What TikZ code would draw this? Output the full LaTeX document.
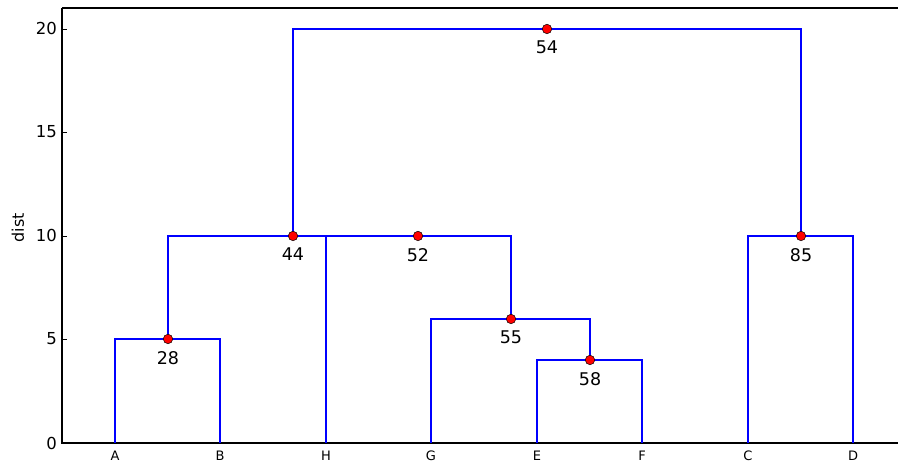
\documentclass[tikz,border=0pt]{standalone}
\usepackage{fontspec}
\setmainfont{DejaVu Sans}
\begin{document}
\begin{tikzpicture}[x=1pt,y=1pt,
  spine/.style={black,line width=1.3pt},
  branch/.style={blue,line width=1.2pt},
  joint/.style={circle,fill=red,draw=black,line width=0.5pt,inner sep=0pt,minimum size=9.5pt},
  ticklab/.style={font=\fontsize{16.5}{19}\selectfont,anchor=east,inner sep=0pt},
  leaflab/.style={font=\fontsize{13}{15}\selectfont,inner sep=0pt},
  numlab/.style={font=\fontsize{17.5}{20}\selectfont,inner sep=0pt}]
\useasboundingbox (0,0) rectangle (898,465);
% axes
\coordinate (o) at (62,22);
\coordinate (ytop) at (62,457);
\coordinate (xr) at (898,22);
\coordinate (tr) at (898,457);
\draw[spine] (ytop) -- (o) -- (xr);
\draw[spine] (ytop) -- (tr);
% y ticks
\foreach \v/\yy in {0/22,5/126,10/229,15/333,20/436}{
  \draw[black,line width=0.8pt] (62,\yy) -- (67,\yy);
  \node[ticklab] (t\v) at (57,\yy) {\v};
}
\node[font=\fontsize{16}{18}\selectfont,rotate=90] (ylab) at (18,237) {dist};
% leaves
\foreach \n/\xx in {A/115,B/220,H/326,G/431,E/537,F/642,C/748,D/853}{
  \coordinate (\n) at (\xx,22);
  \node[leaflab] (l\n) at (\xx,9) {\n};
}
% joints
\coordinate (j28) at (168,126);
\coordinate (j58) at (590,105);
\coordinate (j55) at (511,146);
\coordinate (j52) at (418,229);
\coordinate (j44) at (293,229);
\coordinate (j85) at (801,229);
\coordinate (j54) at (547,436);
% branches
\draw[branch] (A) |- (j28) -| (B);
\draw[branch] (E) |- (j58) -| (F);
\draw[branch] (G) |- (j55) -| (j58);
\draw[branch] (H) |- (j52) -| (j55);
\draw[branch] (j28) |- (j44) -| (j52);
\draw[branch] (C) |- (j85) -| (D);
\draw[branch] (j44) |- (j54) -| (j85);
% dots and labels
\foreach \j in {28,58,55,52,44,85,54}{
  \node[joint] (d\j) at (j\j) {};
  \node[numlab,anchor=north] (n\j) at ([yshift=-12pt]j\j) {\j};
}
\end{tikzpicture}
\end{document}
